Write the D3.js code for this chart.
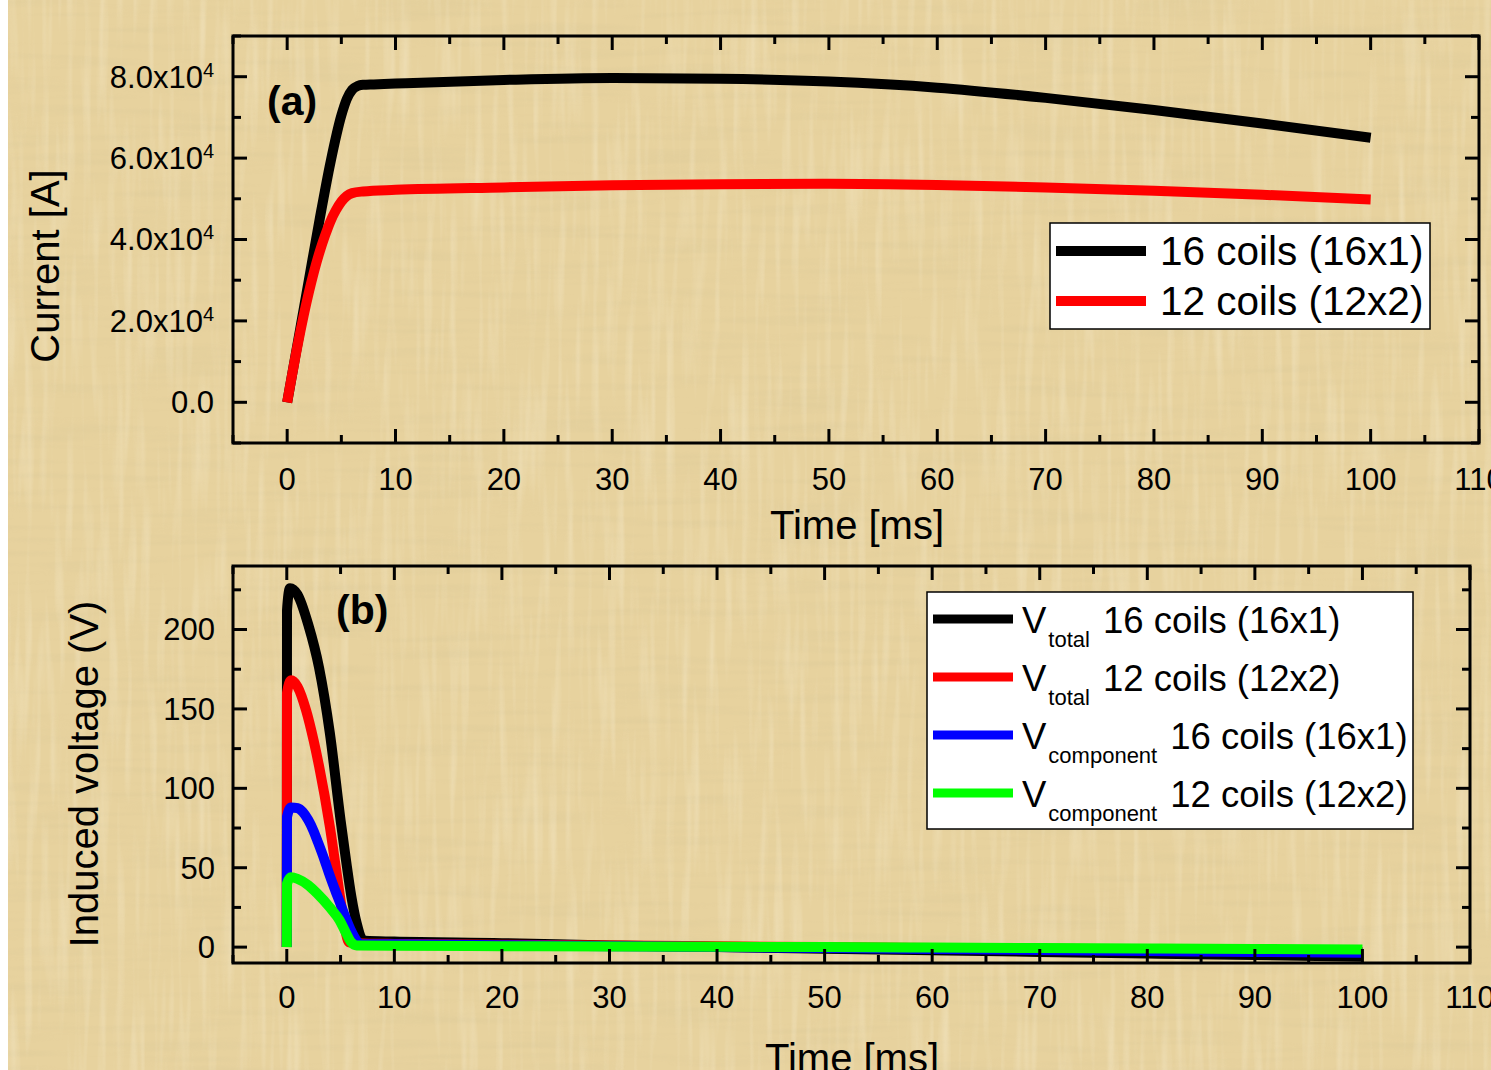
<!DOCTYPE html>
<html>
<head>
<meta charset="utf-8">
<script src="https://cdn.jsdelivr.net/npm/d3@7"></script>
<style>
  body { margin: 0; background: #fff; }
  svg text { font-family: "Liberation Sans", Arial, sans-serif; fill: #000; }
</style>
</head>
<body>
<div id="chart"></div>
<script>
// ---- data ----
// (a) current vs time
var tCur16 = [0, 1, 2, 3, 4, 5, 5.5, 6, 6.5, 7, 8, 10, 20, 30, 40, 50, 60, 70, 80, 90, 100];
var cur16  = [0, 15000, 30000, 45000, 59000, 70500, 74500, 76800, 77700, 78000, 78100, 78300, 79200, 79700, 79500, 78800, 77300, 74800, 71800, 68500, 65000];
var tCur12 = [0, 1, 2, 3, 3.5, 4, 4.5, 5, 5.5, 6, 7, 10, 20, 30, 40, 50, 60, 70, 80, 90, 100];
var cur12  = [0, 14500, 27000, 37000, 41000, 44500, 47200, 49300, 50700, 51400, 51800, 52200, 52800, 53300, 53600, 53700, 53400, 52800, 52000, 51000, 49800];

// (b) induced voltage vs time
var tVt16 = [0, 0.02, 0.3, 1, 2, 3, 4, 5, 5.5, 6, 6.5, 7, 7.3, 10, 20, 30, 40, 50, 60, 70, 80, 90, 100];
var vTot16 = [0, 212, 226, 222, 203, 176, 135, 80, 55, 32, 15, 5, 4, 3.5, 2.5, 1, 0, -1, -2, -3, -4, -5, -6];
var tVt12 = [0, 0.02, 0.4, 1, 1.8, 2.5, 3, 4, 4.9, 5.4, 5.8, 6.5, 10, 20, 30, 40, 50, 60, 70, 80, 90, 100];
var vTot12 = [0, 160, 168, 164, 149, 130, 114, 76, 34, 12, 3, 2.5, 2, 1.5, 1, 0.5, 0, -0.5, -1, -1.5, -2, -3];
var tVc16 = [0, 0.02, 0.4, 1, 1.5, 2, 2.5, 2.9, 3.5, 4, 4.6, 5, 5.5, 6, 6.5, 6.8, 10, 20, 30, 40, 50, 60, 70, 80, 90, 100];
var vCom16 = [0, 82, 88, 87.5, 85, 80, 73, 66, 55, 45, 34, 27, 18, 10, 4, 2, 1.8, 1.2, 0.6, 0, -0.6, -1.2, -1.8, -2.5, -3, -3.5];
var tVc12 = [0, 0.02, 0.4, 1, 2, 2.8, 4, 4.9, 5.5, 6, 6.5, 10, 20, 30, 40, 50, 60, 70, 80, 90, 100];
var vCom12 = [0, 40, 44, 43, 39, 34, 25, 17, 9, 3, 1, 0.8, 0.6, 0.4, 0.2, 0, -0.3, -0.6, -0.9, -1.2, -1.5];

var xTicksMajor = [0, 10, 20, 30, 40, 50, 60, 70, 80, 90, 100, 110];
var curTicks = [0, 20000, 40000, 60000, 80000];
var curTickLabels = ["0.0", "2.0x10", "4.0x10", "6.0x10", "8.0x10"];
var voltTicks = [0, 50, 100, 150, 200];

var legendA = ["16 coils (16x1)", "12 coils (12x2)"];
var legendBSub = ["total", "total", "component", "component"];
var legendBText = ["16 coils (16x1)", "12 coils (12x2)", "16 coils (16x1)", "12 coils (12x2)"];
var colA = ["#000000", "#ff0000"];
var colB = ["#000000", "#ff0000", "#0000ff", "#00ff00"];

var W = 1491, H = 1070;

var svg = d3.select("#chart").append("svg")
    .attr("width", W)
    .attr("height", H);

/******** papyrus-ish background ********/
var defs = svg.append("defs");
var fH = defs.append("filter").attr("id", "fibH").attr("x", 0).attr("y", 0).attr("width", 1).attr("height", 1);
fH.append("feTurbulence").attr("type", "fractalNoise").attr("baseFrequency", "0.008 0.12")
    .attr("numOctaves", 2).attr("seed", 4);
fH.append("feColorMatrix").attr("type", "matrix")
    .attr("values", "0 0 0 0 0.66  0 0 0 0 0.55  0 0 0 0 0.3  1.5 0 0 0 -0.7");
var fV = defs.append("filter").attr("id", "fibV").attr("x", 0).attr("y", 0).attr("width", 1).attr("height", 1);
fV.append("feTurbulence").attr("type", "fractalNoise").attr("baseFrequency", "0.12 0.008")
    .attr("numOctaves", 2).attr("seed", 9);
fV.append("feColorMatrix").attr("type", "matrix")
    .attr("values", "0 0 0 0 1  0 0 0 0 0.96  0 0 0 0 0.82  1.5 0 0 0 -0.7");

svg.append("rect").attr("x", 8).attr("y", 0).attr("width", W - 8).attr("height", H).attr("fill", "#e7d29e");
svg.append("rect").attr("x", 8).attr("y", 0).attr("width", W - 8).attr("height", H)
    .attr("filter", "url(#fibH)").attr("opacity", 0.4);
svg.append("rect").attr("x", 8).attr("y", 0).attr("width", W - 8).attr("height", H)
    .attr("filter", "url(#fibV)").attr("opacity", 0.4);

/******** helper for one framed panel ********/
function drawFrame(g, x, y, xMinor, yMajor, yMinor) {
    var x0 = x.range()[0], x1 = x.range()[1];
    var y0 = y.range()[0], y1 = y.range()[1];

    // ticks pointing inwards on all four sides
    xTicksMajor.concat(xMinor).forEach(function (v) {
        var len = xTicksMajor.indexOf(v) >= 0 ? 14 : 8;
        g.append("line").attr("x1", x(v)).attr("x2", x(v)).attr("y1", y0).attr("y2", y0 - len)
            .attr("stroke", "#000").attr("stroke-width", 3);
        g.append("line").attr("x1", x(v)).attr("x2", x(v)).attr("y1", y1).attr("y2", y1 + len)
            .attr("stroke", "#000").attr("stroke-width", 3);
    });
    yMajor.concat(yMinor).forEach(function (v) {
        var len = yMajor.indexOf(v) >= 0 ? 14 : 8;
        g.append("line").attr("y1", y(v)).attr("y2", y(v)).attr("x1", x0).attr("x2", x0 + len)
            .attr("stroke", "#000").attr("stroke-width", 3);
        g.append("line").attr("y1", y(v)).attr("y2", y(v)).attr("x1", x1).attr("x2", x1 - len)
            .attr("stroke", "#000").attr("stroke-width", 3);
    });

    g.append("rect")
        .attr("x", x0).attr("y", y1)
        .attr("width", x1 - x0).attr("height", y0 - y1)
        .attr("fill", "none").attr("stroke", "#000").attr("stroke-width", 3);
}

function series(ts, vs) {
    return ts.map(function (t, i) { return [t, vs[i]]; });
}

/******** (a) current ********/
var xA = d3.scaleLinear().domain([-5, 110]).range([233, 1479]);
var yA = d3.scaleLinear().domain([-10000, 90000]).range([443, 36]);
var gA = svg.append("g");

var lineA = d3.line().x(d => xA(d[0])).y(d => yA(d[1])).curve(d3.curveMonotoneX);
[series(tCur16, cur16), series(tCur12, cur12)].forEach(function (s, i) {
    gA.append("path").attr("d", lineA(s)).attr("fill", "none")
        .attr("stroke", colA[i]).attr("stroke-width", 10).attr("stroke-linejoin", "round");
});

drawFrame(gA, xA, yA, d3.range(-5, 110, 10), curTicks,
    [-10000, 10000, 30000, 50000, 70000, 90000]);

gA.selectAll(".xl").data(xTicksMajor).enter().append("text")
    .attr("x", d => xA(d)).attr("y", 490)
    .attr("text-anchor", "middle").style("font-size", "31px")
    .text(d => d);

curTicks.forEach(function (v, i) {
    var t = gA.append("text").attr("x", 214).attr("y", yA(v)).attr("dy", "0.35em")
        .attr("text-anchor", "end").style("font-size", "31px");
    t.append("tspan").text(curTickLabels[i]);
    if (v !== 0) {
        t.append("tspan").attr("dy", "-0.55em").style("font-size", "20px").text("4");
    }
});

gA.append("text").attr("x", 857).attr("y", 539).attr("text-anchor", "middle")
    .style("font-size", "40px").text("Time [ms]");
gA.append("text").attr("transform", "translate(59,266) rotate(-90)").attr("text-anchor", "middle")
    .style("font-size", "40px").text("Current [A]");
gA.append("text").attr("x", 267).attr("y", 115).style("font-size", "41px")
    .style("font-weight", "bold").text("(a)");

// legend (a)
var legA = gA.append("g");
legA.append("rect").attr("x", 1050).attr("y", 223).attr("width", 380).attr("height", 106)
    .attr("fill", "#fff").attr("stroke", "#000").attr("stroke-width", 1.5);
legendA.forEach(function (name, i) {
    var cy = 251 + i * 50;
    legA.append("line").attr("x1", 1056).attr("x2", 1146).attr("y1", cy).attr("y2", cy)
        .attr("stroke", colA[i]).attr("stroke-width", 10);
    legA.append("text").attr("x", 1160).attr("y", cy + 14).style("font-size", "40.5px").text(name);
});

/******** (b) induced voltage ********/
var xB = d3.scaleLinear().domain([-5, 110]).range([233, 1470]);
var yB = d3.scaleLinear().domain([-10, 240]).range([963, 566]);
var gB = svg.append("g");

var lineB = d3.line().x(d => xB(d[0])).y(d => yB(d[1])).curve(d3.curveMonotoneX);
[series(tVt16, vTot16), series(tVt12, vTot12), series(tVc16, vCom16), series(tVc12, vCom12)]
    .forEach(function (s, i) {
        gB.append("path").attr("d", lineB(s)).attr("fill", "none")
            .attr("stroke", colB[i]).attr("stroke-width", 10).attr("stroke-linejoin", "round");
    });

drawFrame(gB, xB, yB, d3.range(-5, 110, 10), voltTicks, [25, 75, 125, 175, 225]);

gB.selectAll(".xl").data(xTicksMajor).enter().append("text")
    .attr("x", d => xB(d)).attr("y", 1008)
    .attr("text-anchor", "middle").style("font-size", "31px")
    .text(d => d);

gB.selectAll(".yl").data(voltTicks).enter().append("text")
    .attr("x", 215).attr("y", d => yB(d)).attr("dy", "0.35em")
    .attr("text-anchor", "end").style("font-size", "31px")
    .text(d => d);

gB.append("text").attr("x", 852).attr("y", 1072).attr("text-anchor", "middle")
    .style("font-size", "40px").text("Time [ms]");
gB.append("text").attr("transform", "translate(98,774) rotate(-90)").attr("text-anchor", "middle")
    .style("font-size", "40px").text("Induced voltage (V)");
gB.append("text").attr("x", 336).attr("y", 624).style("font-size", "41px")
    .style("font-weight", "bold").text("(b)");

// legend (b)
var legB = gB.append("g");
legB.append("rect").attr("x", 927).attr("y", 592).attr("width", 486).attr("height", 237)
    .attr("fill", "#fff").attr("stroke", "#000").attr("stroke-width", 1.5);
legendBText.forEach(function (name, i) {
    var cy = 619 + i * 58;
    legB.append("line").attr("x1", 933).attr("x2", 1013).attr("y1", cy).attr("y2", cy)
        .attr("stroke", colB[i]).attr("stroke-width", 9);
    var t = legB.append("text").attr("x", 1022).attr("y", cy + 14).style("font-size", "36.5px");
    t.append("tspan").text("V");
    t.append("tspan").attr("dx", 2).attr("dy", 14).style("font-size", "22px").text(legendBSub[i]);
    t.append("tspan").attr("dx", 13).attr("dy", -14).text(name);
});
</script>
</body>
</html>
